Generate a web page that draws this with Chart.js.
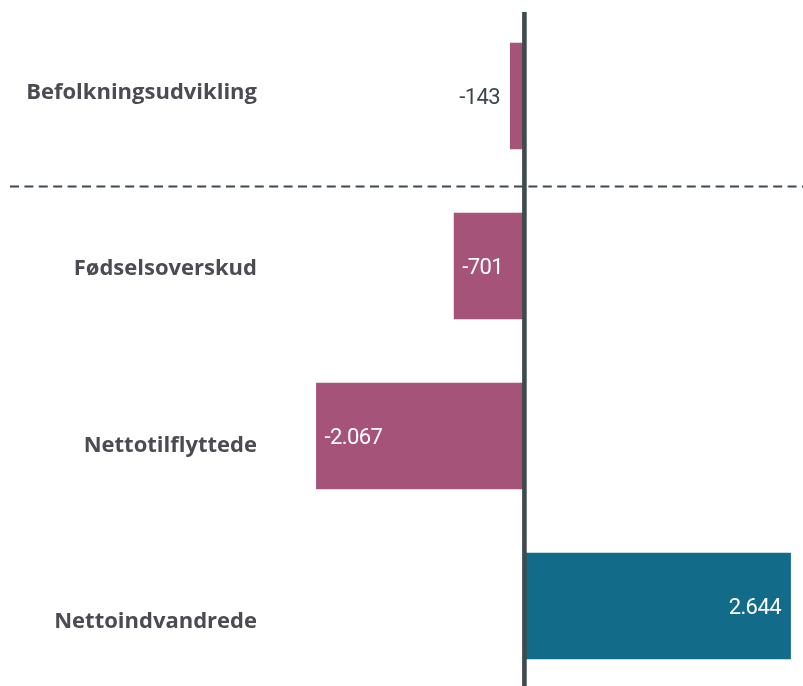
<!DOCTYPE html>
<html>
<head>
<meta charset="utf-8">
<script src="https://cdn.jsdelivr.net/npm/chart.js@4/dist/chart.umd.min.js"></script>
<style>
html,body{margin:0;padding:0;background:#fff;overflow:hidden;}
#wrap{position:relative;width:803px;height:691px;}
</style>
</head>
<body>
<div id="wrap"><canvas id="c" width="803" height="691"></canvas></div>
<script>
const categories = ["Befolkningsudvikling", "Fødselsoverskud", "Nettotilflyttede", "Nettoindvandrede"];
const values = [-143, -701, -2067, 2644];
const barColors = ["#a55379", "#a55379", "#a55379", "#136b8a"];

function fmt(v) {
  const s = Math.abs(v).toString().replace(/\B(?=(\d{3})+(?!\d))/g, ".");
  return (v < 0 ? "-" : "") + s;
}

const VAL_SIZE = 22;
const LABEL_FONT = VAL_SIZE + 'px Roboto, "Liberation Sans", sans-serif';
const CAT_SIZE = 22;
const CAT_FONT = 'bold ' + CAT_SIZE + 'px "Open Sans", Lato, sans-serif';

const decorPlugin = {
  id: 'decor',
  afterDatasetsDraw(chart) {
    const ctx = chart.ctx;
    const xs = chart.scales.x, ys = chart.scales.y;
    const meta = chart.getDatasetMeta(0);
    ctx.save();
    // category labels
    ctx.font = CAT_FONT;
    ctx.fillStyle = '#4b4b52';
    ctx.textAlign = 'right';
    ctx.textBaseline = 'alphabetic';
    categories.forEach((c, i) => {
      const cy = ys.getPixelForValue(i * 1.0365) - 4.7;
      ctx.fillText(c, chart.chartArea.left - 23, cy + 0.357 * CAT_SIZE);
    });
    // value labels
    ctx.font = LABEL_FONT;
    try { ctx.letterSpacing = '-0.6px'; } catch (e) {}
    meta.data.forEach((bar, i) => {
      const v = values[i];
      const txt = fmt(v);
      const w = ctx.measureText(txt).width;
      const len = Math.abs(bar.x - bar.base);
      const by = bar.y + 0.355 * VAL_SIZE;
      if (len > w + 18) {
        ctx.fillStyle = '#ffffff';
        if (v < 0) { ctx.textAlign = 'left'; ctx.fillText(txt, bar.x + 8.5, by); }
        else { ctx.textAlign = 'right'; ctx.fillText(txt, bar.x - 10, by); }
      } else {
        ctx.fillStyle = '#3d464a';
        if (v < 0) { ctx.textAlign = 'right'; ctx.fillText(txt, bar.x - 10, by); }
        else { ctx.textAlign = 'left'; ctx.fillText(txt, bar.x + 10, by); }
      }
    });
    try { ctx.letterSpacing = '0px'; } catch (e) {}
    // dashed separator
    const step = ys.getPixelForValue(1) - ys.getPixelForValue(0);
    const yd = Math.round(ys.getPixelForValue(0) + step * 0.532) + 0.5;
    ctx.strokeStyle = '#3d4a55';
    ctx.lineWidth = 2;
    ctx.setLineDash([9, 5.4]);
    ctx.beginPath();
    ctx.moveTo(10, yd);
    ctx.lineTo(chart.width, yd);
    ctx.stroke();
    ctx.setLineDash([]);
    // zero line
    const x0 = xs.getPixelForValue(0);
    ctx.fillStyle = '#3e4b4d';
    ctx.fillRect(x0 - 2.3, 12, 4.6, chart.height - 12);
    ctx.restore();
  }
};

new Chart(document.getElementById('c'), {
  type: 'bar',
  data: {
    labels: categories,
    datasets: [{
      data: values,
      backgroundColor: barColors,
      borderWidth: 0,
      categoryPercentage: 1,
      barPercentage: 0.626
    }]
  },
  options: {
    indexAxis: 'y',
    responsive: false,
    animation: false,
    layout: { padding: { top: 11, right: 0, bottom: 0, left: 280 } },
    plugins: { legend: { display: false }, tooltip: { enabled: false } },
    scales: {
      x: { display: false, min: -2425, max: 2764 },
      y: { display: false }
    }
  },
  plugins: [decorPlugin]
});
</script>
</body>
</html>
